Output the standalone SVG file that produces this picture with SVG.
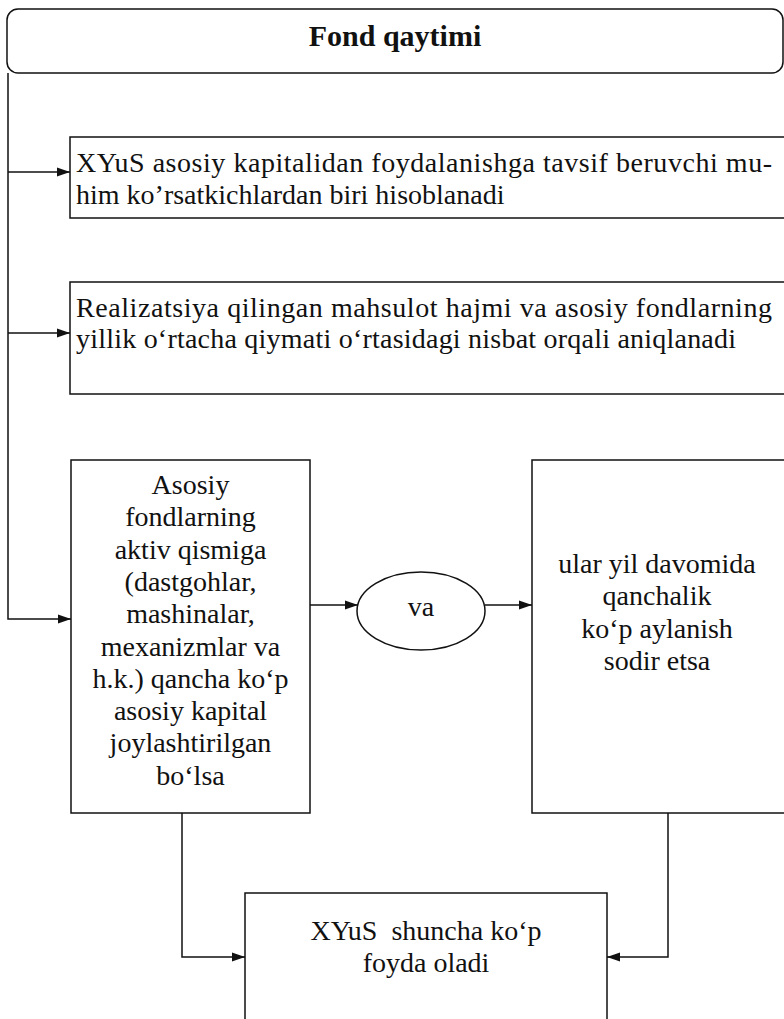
<svg xmlns="http://www.w3.org/2000/svg" width="784" height="1019" viewBox="0 0 784 1019">
<style>
.box{fill:#fff;stroke:#111;stroke-width:1.5}
.ln{fill:none;stroke:#111;stroke-width:1.5}
.t{font-family:"Liberation Serif","Times New Roman",serif;font-size:28px;fill:#111}
.c{text-anchor:middle}
.title{font-family:"Liberation Serif","Times New Roman",serif;font-size:30px;font-weight:bold;fill:#111;text-anchor:middle}
</style>
<defs>
<marker id="ah" markerUnits="userSpaceOnUse" markerWidth="14" markerHeight="10" refX="13" refY="5" orient="auto">
<path d="M0,0.5 L13,5 L0,9.5 Z" fill="#111"/>
</marker>
</defs>
<rect width="784" height="1019" fill="#fff"/>
<g id="title">
<rect class="box" x="7" y="9" width="776" height="64" rx="11"/>
<text class="title" x="395" y="46">Fond qaytimi</text>
</g>
<g id="box1">
<rect class="box" x="70" y="137" width="730" height="81"/>
<text class="t" x="76" y="172" textLength="696" lengthAdjust="spacing">XYuS asosiy kapitalidan foydalanishga tavsif beruvchi mu-</text>
<text class="t" x="76" y="204">him ko’rsatkichlardan biri hisoblanadi</text>
</g>
<g id="box2">
<rect class="box" x="70" y="282" width="730" height="112"/>
<text class="t" x="76" y="317" textLength="696" lengthAdjust="spacing">Realizatsiya qilingan mahsulot hajmi va asosiy fondlarning</text>
<text class="t" x="76" y="348" textLength="660" lengthAdjust="spacing">yillik o‘rtacha qiymati o‘rtasidagi nisbat orqali aniqlanadi</text>
</g>
<g id="leftbox">
<rect class="box" x="71" y="460" width="239" height="353"/>
<text class="t c" x="190.5" y="494">Asosiy</text>
<text class="t c" x="190.5" y="526.3">fondlarning</text>
<text class="t c" x="190.5" y="558.6">aktiv qismiga</text>
<text class="t c" x="190.5" y="590.9">(dastgohlar,</text>
<text class="t c" x="190.5" y="623.2">mashinalar,</text>
<text class="t c" x="190.5" y="655.5">mexanizmlar va</text>
<text class="t c" x="190.5" y="687.8">h.k.) qancha ko‘p</text>
<text class="t c" x="190.5" y="720.1">asosiy kapital</text>
<text class="t c" x="190.5" y="752.4">joylashtirilgan</text>
<text class="t c" x="190.5" y="784.7">bo‘lsa</text>
</g>
<g id="va">
<ellipse class="box" cx="421" cy="611" rx="64" ry="39"/>
<text class="t c" x="421" y="616">va</text>
</g>
<g id="rightbox">
<rect class="box" x="532" y="460" width="260" height="353"/>
<text class="t c" x="657" y="573">ular yil davomida</text>
<text class="t c" x="657" y="605.3">qanchalik</text>
<text class="t c" x="657" y="637.6">ko‘p aylanish</text>
<text class="t c" x="657" y="669.9">sodir etsa</text>
</g>
<g id="result">
<rect class="box" x="245" y="893" width="362" height="140"/>
<text class="t c" x="426" y="940" xml:space="preserve">XYuS  shuncha ko‘p</text>
<text class="t c" x="426" y="972">foyda oladi</text>
</g>
<g id="connectors">
<path class="ln" d="M8,73 V619 H71" marker-end="url(#ah)"/>
<path class="ln" d="M8,172 H70" marker-end="url(#ah)"/>
<path class="ln" d="M8,333 H70" marker-end="url(#ah)"/>
<path class="ln" d="M310,605 H358" marker-end="url(#ah)"/>
<path class="ln" d="M485,605 H532" marker-end="url(#ah)"/>
<path class="ln" d="M182,813 V957 H245" marker-end="url(#ah)"/>
<path class="ln" d="M668,813 V957 H607" marker-end="url(#ah)"/>
</g>
</svg>
